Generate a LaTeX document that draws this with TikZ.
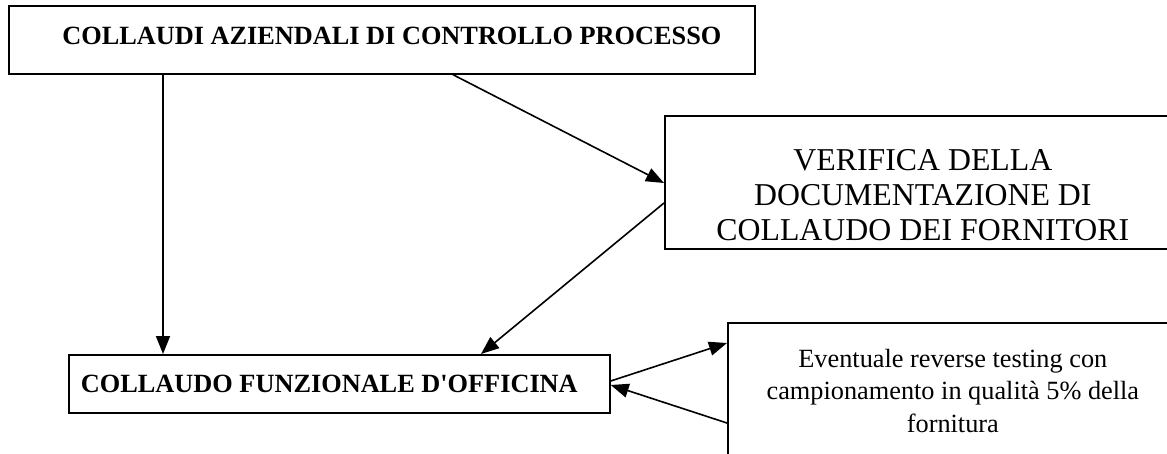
\documentclass[tikz,border=0pt]{standalone}
\usepackage{fontspec}
\setmainfont{Liberation Serif}
\usetikzlibrary{arrows.meta}

\begin{document}
\begin{tikzpicture}[x=1pt, y=-1pt,
    box/.style={draw, line width=1.7pt, anchor=north west, inner sep=0pt},
    arr/.style={line width=1.6pt, -{Triangle[length=18pt,width=14pt]}}]
  \useasboundingbox (0,0) rectangle (1167,454);
  \def\boldsize{\fontsize{26.3}{30}\selectfont\bfseries}

  \node[box, minimum width=746pt, minimum height=68pt, font=\boldsize] (aziendali) at (8,5)
    {\hspace*{20pt}COLLAUDI AZIENDALI DI CONTROLLO PROCESSO\rule[-8pt]{0pt}{8pt}};
  \node[box, minimum width=516pt, minimum height=133pt, align=center,
        font=\fontsize{31.8}{35}\selectfont] (verifica) at (664,115)
    {\rule{0pt}{46pt}VERIFICA DELLA\\ DOCUMENTAZIONE DI\\ COLLAUDO DEI FORNITORI};
  \node[box, minimum width=541pt, minimum height=58pt, font=\boldsize] (officina) at (68,354)
    {COLLAUDO FUNZIONALE D\textquotesingle OFFICINA\hspace*{20pt}};
  \node[box, minimum width=450pt, minimum height=136pt, align=center,
        font=\fontsize{26.3}{32.5}\selectfont] (reverse) at (727,322)
    {Eventuale reverse testing con\\ campionamento in qualità 5\% della\\ fornitura};

  \draw[arr] ([xshift=155pt]aziendali.south west) -- ([xshift=95pt]officina.north west);
  \draw[arr] ([xshift=445pt]aziendali.south west) -- ([yshift=-68pt]verifica.north west);
  \draw[arr] ([yshift=-88pt]verifica.north west) -- ([xshift=413pt]officina.north west);

  \draw[arr] ([yshift=-27pt]officina.north east) -- ([yshift=-21pt]reverse.north west);
  \draw[arr] ([yshift=-101pt]reverse.north west) -- ([yshift=-31pt]officina.north east);
\end{tikzpicture}
\end{document}
